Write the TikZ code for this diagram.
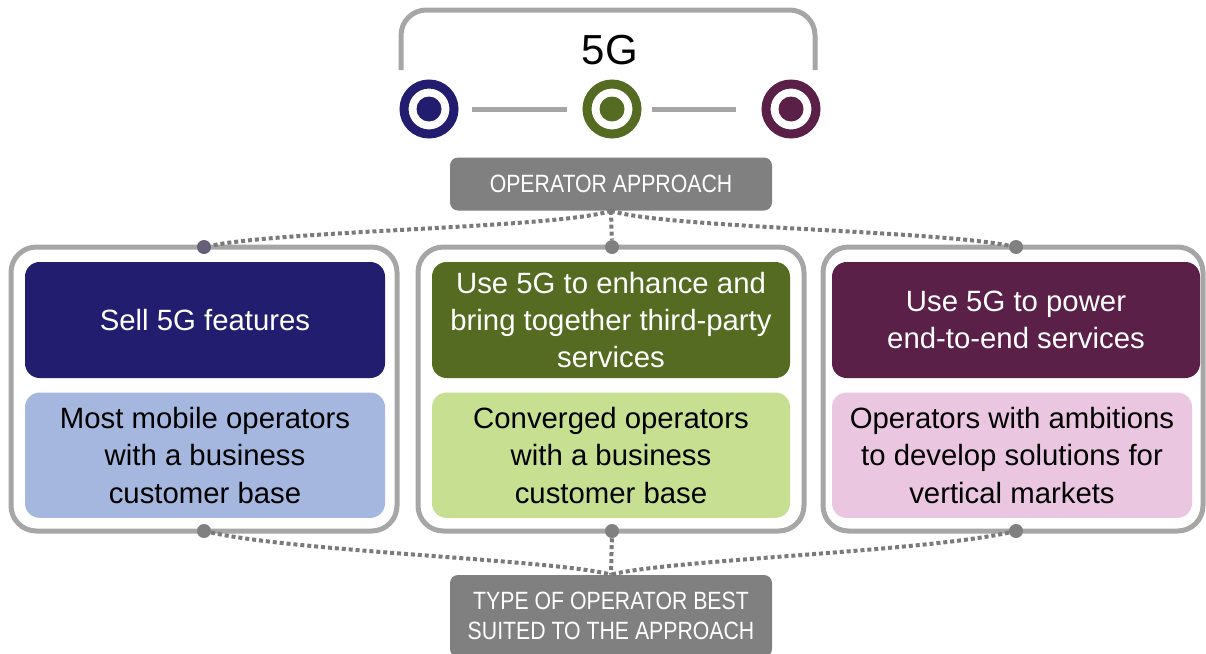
\documentclass[tikz,border=0pt]{standalone}
\usepackage{fontspec}
\setmainfont{Liberation Sans}
\newfontfamily\condfont[FakeStretch=0.85]{Liberation Sans}
\usetikzlibrary{positioning}

\definecolor{navy}{HTML}{221D6F}
\definecolor{olive}{HTML}{556B21}
\definecolor{plum}{HTML}{5B2048}
\definecolor{skyfill}{HTML}{A5B7DF}
\definecolor{limefill}{HTML}{C7DF90}
\definecolor{pinkfill}{HTML}{EBC6E1}
\definecolor{frame}{HTML}{A6A6A6}
\definecolor{tagbg}{HTML}{808080}
\definecolor{trailgray}{HTML}{7A7A7A}
\definecolor{dusk}{HTML}{675F75}

\begin{document}
\begin{tikzpicture}[
  x=0.75pt, y=-0.75pt,
  panel/.style={draw=frame, line width=3.75pt, fill=white, rounded corners=19pt, minimum height=213pt},
  tile/.style={rounded corners=11pt, align=center, inner sep=2pt, font=\fontsize{22}{28}\selectfont},
  headbox/.style={tile, minimum height=87pt, text=white},
  basebox/.style={tile, minimum height=94pt, text=black},
  tagbox/.style={fill=tagbg, rounded corners=6pt, text=white, align=center, minimum width=241.5pt, font=\condfont\fontsize{18.75}{22.5}\selectfont},
  ring/.style={circle, draw=#1, line width=6.75pt, minimum size=37.5pt, inner sep=0pt},
  core/.style={circle, fill=#1, minimum size=18.75pt, inner sep=0pt},
  knob/.style={circle, fill=#1, minimum size=10.5pt, inner sep=0pt},
  link/.style={draw=frame, line width=3.75pt},
  trail/.style={draw=trailgray, line width=3pt, dash pattern=on 3pt off 2.2pt}
]
  \useasboundingbox (0,0) rectangle (1206,653);

  % 5G bracket and the three rings
  \draw[link, rounded corners=19pt] (401,70) -- (401,10) -- (815,10) -- (815,70);
  \node[font=\fontsize{31.5}{36}\selectfont] (fiveg) at (610,50) {5G};
  \node[ring=navy] (ringA) at (429,109) {};
  \node[core=navy] (coreA) at (ringA) {};
  \node[ring=olive] (ringB) at (612,109) {};
  \node[core=olive] (coreB) at (ringB) {};
  \node[ring=plum] (ringC) at (791,109) {};
  \node[core=plum] (coreC) at (ringC) {};
  \draw[link, shorten <=10pt, shorten >=12pt] (ringA) -- (ringB);
  \draw[link, shorten <=8pt, shorten >=19.5pt] (ringB) -- (ringC);

  \node[tagbox, minimum height=39.75pt] (approach) at (611,184) {OPERATOR APPROACH};

  % panels
  \node[panel, minimum width=289.5pt] (panelA) at (204,389) {};
  \node[panel, minimum width=289.5pt] (panelB) at (611,389) {};
  \node[panel, minimum width=285pt] (panelC) at (1013,389) {};

  \node[headbox, fill=navy, minimum width=270pt] (headA) at (205,320) {Sell 5G features};
  \node[headbox, fill=olive, minimum width=268.5pt] (headB) at (611,320) {Use 5G to enhance and\\bring together third-party\\services};
  \node[headbox, fill=plum, minimum width=276pt] (headC) at (1016,320) {Use 5G to power\\end-to-end services};

  \node[basebox, fill=skyfill, minimum width=270pt, below=10.5pt of headA] (baseA) {Most mobile operators\\with a business\\customer base};
  \node[basebox, fill=limefill, minimum width=268.5pt, below=10.5pt of headB] (baseB) {Converged operators\\with a business\\customer base};
  \node[basebox, fill=pinkfill, minimum width=270pt, below right=10.5pt and 0pt of headC.south west] (baseC) {Operators with ambitions\\to develop solutions for\\vertical markets};

  \node[tagbox, minimum height=61.5pt] (suited) at (611,616) {TYPE OF OPERATOR BEST\\SUITED TO THE APPROACH};

  % dots on the panel borders
  \node[knob=dusk] (dotTA) at (204,247) {};
  \node[knob=tagbg] (dotTB) at (612,247) {};
  \node[knob=tagbg] (dotTC) at (1016,247) {};
  \node[knob=tagbg] (dotBA) at (204,531) {};
  \node[knob=tagbg] (dotBB) at (612,531) {};
  \node[knob=tagbg] (dotBC) at (1016,531) {};

  \draw[trail] (approach.south) .. controls (560,228) and (290,230) .. (dotTA);
  \draw[trail] (approach.south) -- (dotTB);
  \draw[trail] (approach.south) .. controls (664,228) and (930,230) .. (dotTC);
  \draw[trail] (dotBA) .. controls (300,552) and (560,560) .. (suited.north);
  \draw[trail] (dotBB) -- (suited.north);
  \draw[trail] (dotBC) .. controls (920,552) and (664,560) .. (suited.north);
\end{tikzpicture}
\end{document}
